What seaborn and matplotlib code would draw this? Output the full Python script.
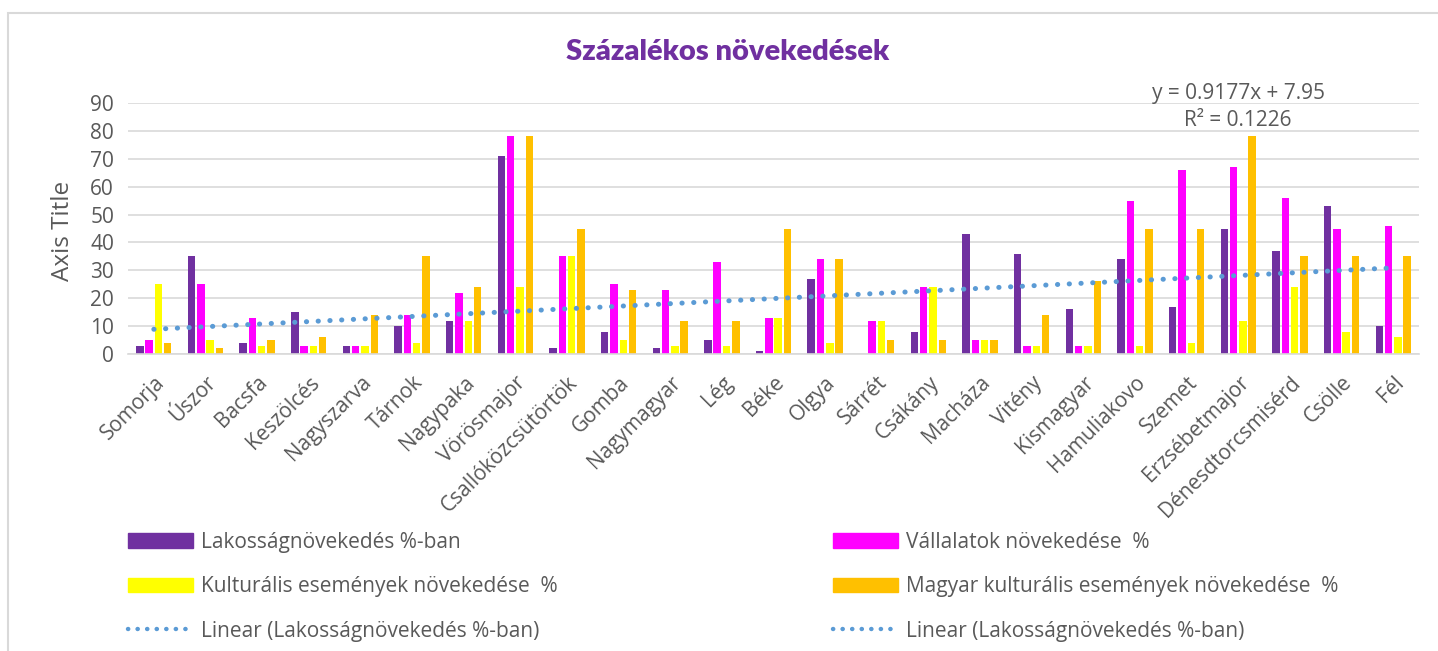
import pandas as pd, numpy as np
import matplotlib
matplotlib.use("Agg")
import matplotlib.pyplot as plt
import seaborn as sns
from matplotlib.patches import Patch, Rectangle
from matplotlib.lines import Line2D

sns.set_style("white")
plt.rcParams["font.family"] = ["Open Sans", "DejaVu Sans"]

telepulesek = ["Somorja", "Úszor", "Bacsfa", "Keszölcés", "Nagyszarva", "Tárnok", "Nagypaka",
               "Vörösmajor", "Csallóközcsütörtök", "Gomba", "Nagymagyar", "Lég", "Béke", "Olgya",
               "Sárrét", "Csákány", "Macháza", "Vitény", "Kismagyar", "Hamuliakovo", "Szemet",
               "Erzsébetmajor", "Dénesdtorcsmisérd", "Csölle", "Fél"]

lakossag = [3, 35, 4, 15, 3, 10, 12, 71, 2, 8, 2, 5, 1, 27, 0, 8, 43, 36, 16, 34, 17, 45, 37, 53, 10]
vallalatok = [5, 25, 13, 3, 3, 14, 22, 78, 35, 25, 23, 33, 13, 34, 12, 24, 5, 3, 3, 55, 66, 67, 56, 45, 46]
kulturalis = [25, 5, 3, 3, 3, 4, 12, 24, 35, 5, 3, 3, 13, 4, 12, 24, 5, 3, 3, 3, 4, 12, 24, 8, 6]
magyar_kult = [4, 2, 5, 6, 14, 35, 24, 78, 45, 23, 12, 12, 45, 34, 5, 5, 5, 14, 26, 45, 45, 78, 35, 35, 35]

sorozatok = ["Lakosságnövekedés %-ban", "Vállalatok növekedése  %",
             "Kulturális események növekedése  %", "Magyar kulturális események növekedése  %"]
szinek = ["#7030A0", "#FF00FF", "#FFFF00", "#FFC000"]
trend_label = "Linear (Lakosságnövekedés %-ban)"
trend_color = "#5B9BD5"

# trendline shown on the chart (Excel linear fit of the first series)
slope, intercept, r2 = 0.9177, 7.95, 0.1226

df = pd.DataFrame({
    "telepules": telepulesek * 4,
    "ertek": lakossag + vallalatok + kulturalis + magyar_kult,
    "sorozat": sum([[s] * len(telepulesek) for s in sorozatok], []),
})

TXT = "#595959"
GRID = "#D9D9D9"

fig = plt.figure(figsize=(14.38, 6.51), dpi=100)
ax = fig.add_axes([128 / 1438, 1 - 354 / 651, (1419 - 128) / 1438, (354 - 103) / 651])

sns.barplot(data=df, x="telepules", y="ertek", hue="sorozat", order=telepulesek,
            hue_order=sorozatok, palette=szinek, saturation=1, width=0.72, gap=0.2,
            errorbar=None, legend=False, linewidth=0, ax=ax)

xs = np.arange(len(telepulesek))
ax.plot(xs, slope * (xs + 1) + intercept, color=trend_color, linestyle=(0, (0.05, 2.3)),
        linewidth=3.6, dash_capstyle="round", zorder=5)

ax.set_xlim(-0.5, len(telepulesek) - 0.5)
ax.set_ylim(0, 90)
ax.set_yticks(range(0, 91, 10))
ax.yaxis.grid(True, color=GRID, linewidth=1.2)
ax.set_axisbelow(True)
for s in ["top", "right", "left"]:
    ax.spines[s].set_visible(False)
ax.spines["bottom"].set_color(GRID)
ax.spines["bottom"].set_linewidth(1.2)
ax.tick_params(axis="both", length=0, colors=TXT, labelsize=15)
ax.tick_params(axis="y", pad=10)
ax.tick_params(axis="x", pad=13)
plt.setp(ax.get_xticklabels(), rotation=45, ha="right", rotation_mode="anchor")
ax.set_xlabel("")
ax.set_ylabel("Axis Title", color=TXT, fontsize=17.5)
ax.yaxis.set_label_coords(-0.041, 0.49)

fig.text(728 / 1438, 1 - 52 / 651, "Százalékos növekedések", color="#7030A0",
         fontsize=21, fontweight="heavy", family=["Lato", "DejaVu Sans"],
         ha="center", va="center")
fig.text(1238 / 1438, 1 - 93 / 651, f"y = {slope}x + {intercept}", color=TXT,
         fontsize=15, ha="center", va="center")
fig.text(1238 / 1438, 1 - 121 / 651, f"R² = {r2}", color=TXT,
         fontsize=15, ha="center", va="center")

# chart border (light grey frame)
fig.patches.append(Rectangle((8 / 1438, -0.1), 1.2, 1 - 13 / 651 + 0.1,
                             transform=fig.transFigure, fill=False,
                             edgecolor="#D9D9D9", linewidth=1.5))

trend_handle = Line2D([0], [0], color=trend_color, linestyle=(0, (0.05, 2.1)),
                      linewidth=3.2, dash_capstyle="round")
leg_kw = dict(frameon=False, fontsize=15, labelcolor=TXT, handlelength=3.1,
              handleheight=0.7, handletextpad=0.4, labelspacing=1.12,
              borderaxespad=0, borderpad=0)
col1 = [Patch(color=szinek[0]), Patch(color=szinek[2]), trend_handle]
col2 = [Patch(color=szinek[1]), Patch(color=szinek[3]), trend_handle]
fig.legend(col1, [sorozatok[0], sorozatok[2], trend_label], loc="upper left",
           bbox_to_anchor=(128 / 1438, 1 - 532 / 651), **leg_kw)
fig.legend(col2, [sorozatok[1], sorozatok[3], trend_label], loc="upper left",
           bbox_to_anchor=(833 / 1438, 1 - 532 / 651), **leg_kw)

fig.savefig("out.png", dpi=100, facecolor="white")
